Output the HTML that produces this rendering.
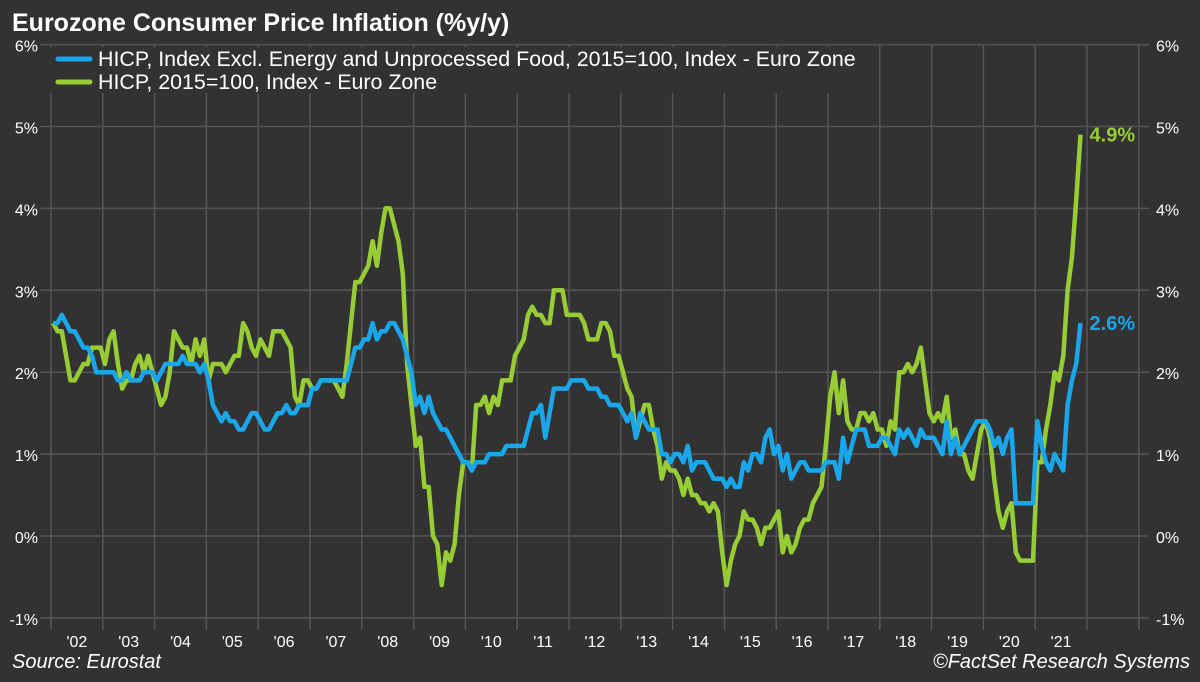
<!DOCTYPE html>
<html><head><meta charset="utf-8"><style>
html,body{margin:0;padding:0;background:#323232;}
svg{display:block;font-family:"Liberation Sans",sans-serif;}
</style></head><body>
<svg id="chart" width="1200" height="682" viewBox="0 0 1200 682">
<rect x="0" y="0" width="1200" height="682" fill="#323232"/>
<g id="grid"></g>
<g id="axes"></g>
<rect x="48" y="47" width="820" height="46" fill="#323232"/>
<g id="series"></g>
<text x="12" y="31" fill="#fff" font-size="25" font-weight="bold">Eurozone Consumer Price Inflation (%y/y)</text>
<g>
<g><line x1="58" y1="59" x2="90" y2="59" stroke="#1aa7ea" stroke-width="5" stroke-linecap="round"/><text x="98" y="66" fill="#fff" font-size="21.4">HICP, Index Excl. Energy and Unprocessed Food, 2015=100, Index - Euro Zone</text></g>
<g><line x1="58" y1="82" x2="90" y2="82" stroke="#97cc35" stroke-width="5" stroke-linecap="round"/><text x="98" y="89" fill="#fff" font-size="21.4">HICP, 2015=100, Index - Euro Zone</text></g>
</g>
<text x="12" y="668" fill="#fff" font-size="20" font-style="italic">Source: Eurostat</text>
<text x="1190" y="668" fill="#fff" font-size="20" font-style="italic" text-anchor="end">©FactSet Research Systems</text>
</svg>
<script>
const yTicks=[6,5,4,3,2,1,0,-1];
const yearLabels=["'02","'03","'04","'05","'06","'07","'08","'09","'10","'11","'12","'13","'14","'15","'16","'17","'18","'19","'20","'21"];
const headline=[2.6,2.5,2.5,2.2,1.9,1.9,2.0,2.1,2.1,2.3,2.3,2.3,
2.1,2.4,2.5,2.1,1.8,1.9,1.9,2.1,2.2,2.0,2.2,2.0,
1.8,1.6,1.7,2.0,2.5,2.4,2.3,2.3,2.1,2.4,2.2,2.4,
1.9,2.1,2.1,2.1,2.0,2.1,2.2,2.2,2.6,2.5,2.3,2.2,
2.4,2.3,2.2,2.5,2.5,2.5,2.4,2.3,1.7,1.6,1.9,1.9,
1.8,1.8,1.9,1.9,1.9,1.9,1.8,1.7,2.1,2.6,3.1,3.1,
3.2,3.3,3.6,3.3,3.7,4.0,4.0,3.8,3.6,3.2,2.1,1.6,
1.1,1.2,0.6,0.6,0.0,-0.1,-0.6,-0.2,-0.3,-0.1,0.5,0.9,
0.9,0.8,1.6,1.6,1.7,1.5,1.7,1.6,1.9,1.9,1.9,2.2,
2.3,2.4,2.7,2.8,2.7,2.7,2.6,2.6,3.0,3.0,3.0,2.7,
2.7,2.7,2.7,2.6,2.4,2.4,2.4,2.6,2.6,2.5,2.2,2.2,
2.0,1.8,1.7,1.2,1.4,1.6,1.6,1.3,1.1,0.7,0.9,0.8,
0.8,0.7,0.5,0.7,0.5,0.5,0.4,0.4,0.3,0.4,0.3,-0.2,
-0.6,-0.3,-0.1,0.0,0.3,0.2,0.2,0.1,-0.1,0.1,0.1,0.2,
0.3,-0.2,0.0,-0.2,-0.1,0.1,0.2,0.2,0.4,0.5,0.6,1.1,
1.7,2.0,1.5,1.9,1.4,1.3,1.3,1.5,1.5,1.4,1.5,1.3,
1.3,1.1,1.4,1.3,2.0,2.0,2.1,2.0,2.1,2.3,1.9,1.5,
1.4,1.5,1.4,1.7,1.2,1.3,1.0,1.0,0.8,0.7,1.0,1.3,
1.4,1.2,0.7,0.3,0.1,0.3,0.4,-0.2,-0.3,-0.3,-0.3,-0.3,
0.9,0.9,1.3,1.6,2.0,1.9,2.2,3.0,3.4,4.1,4.9];
const core=[2.6,2.6,2.7,2.6,2.5,2.5,2.4,2.3,2.3,2.2,2.0,2.0,
2.0,2.0,2.0,1.9,1.9,2.0,1.9,1.9,1.9,2.0,2.0,2.0,
1.9,2.0,2.1,2.1,2.1,2.1,2.2,2.1,2.1,2.1,2.0,2.1,
1.9,1.6,1.5,1.4,1.5,1.4,1.4,1.3,1.3,1.4,1.5,1.5,
1.4,1.3,1.3,1.4,1.5,1.5,1.6,1.5,1.5,1.6,1.6,1.6,
1.8,1.8,1.9,1.9,1.9,1.9,1.9,1.9,1.9,2.1,2.3,2.3,
2.4,2.4,2.6,2.4,2.5,2.5,2.6,2.6,2.5,2.4,2.2,2.0,
1.6,1.7,1.5,1.7,1.5,1.4,1.3,1.3,1.2,1.1,1.0,0.9,
0.9,0.8,0.9,0.9,0.9,1.0,1.0,1.0,1.0,1.1,1.1,1.1,
1.1,1.1,1.3,1.5,1.5,1.6,1.2,1.5,1.8,1.8,1.8,1.8,
1.9,1.9,1.9,1.9,1.8,1.8,1.8,1.7,1.7,1.6,1.6,1.6,
1.5,1.4,1.5,1.2,1.5,1.4,1.3,1.3,1.3,1.0,1.0,0.9,
1.0,1.0,0.9,1.1,0.8,0.9,0.9,0.9,0.8,0.7,0.7,0.7,
0.6,0.7,0.6,0.6,0.9,0.8,1.0,1.0,0.9,1.2,1.3,1.0,
1.1,0.8,1.0,0.7,0.8,0.9,0.9,0.8,0.8,0.8,0.8,0.9,
0.9,0.9,0.7,1.2,0.9,1.1,1.3,1.3,1.3,1.1,1.1,1.1,
1.2,1.2,1.1,1.0,1.3,1.2,1.3,1.2,1.1,1.3,1.2,1.2,
1.2,1.1,1.0,1.4,1.0,1.2,1.0,1.1,1.2,1.3,1.4,1.4,
1.4,1.3,1.1,1.2,1.0,1.2,1.3,0.4,0.4,0.4,0.4,0.4,
1.4,1.1,0.9,0.8,1.0,0.9,0.8,1.6,1.9,2.1,2.6];
const NS="http://www.w3.org/2000/svg";
const y=v=>536-v*81.9;
const x=i=>51+(i+0.5)*51.8/12;
const yearX=k=>51+k*51.8;
function mk(tag,attrs,parent){const e=document.createElementNS(NS,tag);for(const k in attrs)e.setAttribute(k,attrs[k]);parent.appendChild(e);return e;}
const grid=document.getElementById('grid'),axes=document.getElementById('axes'),ser=document.getElementById('series');
yTicks.forEach(t=>{
 const l=mk('line',{x1:40,x2:1149,y1:y(t),y2:y(t),stroke:'#555','stroke-width':1.5},grid);
 
 
 const a=mk('text',{x:38,y:y(t)+7,fill:'#fff','font-size':16,'text-anchor':'end'},axes);a.textContent=t+'%';
 
 
 const b=mk('text',{x:1156,y:y(t)+7,fill:'#fff','font-size':16},axes);b.textContent=t+'%';
 
 
});
for(let k=0;k<=21;k++){
 const l=mk('line',{x1:yearX(k),x2:yearX(k),y1:y(6),y2:630,stroke:'#555','stroke-width':1.5},grid);
 
 
}
yearLabels.forEach((s,k)=>{
 const t=mk('text',{x:yearX(k)+25.9,y:647,fill:'#fff','font-size':16,'text-anchor':'middle'},axes);t.textContent=s;
 
 
});
function line(data,color,name){
 const p=mk('path',{d:data.map((v,i)=>(i?'L':'M')+x(i).toFixed(1)+','+y(v).toFixed(1)).join(''),fill:'none',stroke:color,'stroke-width':4.5,'stroke-linejoin':'round'},ser);
 
 
 const n=data.length-1;
 const t=mk('text',{x:x(n)+9,y:y(data[n])+7,fill:color,'font-size':20,'font-weight':'bold'},ser);t.textContent=data[n].toFixed(1)+'%';
 
 
}
line(headline,'#97cc35','headline-hicp-line');
line(core,'#1aa7ea','core-hicp-line');
</script>
</body></html>
